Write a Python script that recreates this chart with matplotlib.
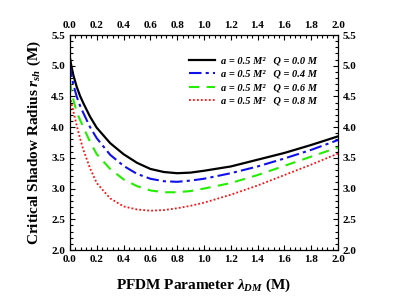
import matplotlib
matplotlib.use('Agg')
import matplotlib.pyplot as plt
from matplotlib.ticker import MultipleLocator, FormatStrFormatter

plt.rcParams['font.family'] = ['Liberation Serif', 'DejaVu Serif']
plt.rcParams['mathtext.fontset'] = 'custom'
plt.rcParams['mathtext.rm'] = 'Liberation Serif:bold'
plt.rcParams['mathtext.it'] = 'Liberation Serif:bold:italic'
plt.rcParams['mathtext.bf'] = 'Liberation Serif:bold'

# PFDM parameter values
lam = [0.0, 0.01, 0.025, 0.05, 0.075, 0.1, 0.15, 0.2, 0.3, 0.4, 0.5, 0.6, 0.7, 0.8, 0.9,
       1.0, 1.2, 1.4, 1.6, 1.8, 2.0]

# shadow radius for each Q (a = 0.5)
r_q00 = [5.13, 5.00, 4.85, 4.66, 4.51, 4.39, 4.17, 3.99, 3.74, 3.56, 3.42, 3.32, 3.27,
         3.25, 3.26, 3.29, 3.36, 3.47, 3.58, 3.71, 3.85]
r_q04 = [5.02, 4.86, 4.70, 4.50, 4.35, 4.23, 4.00, 3.82, 3.55, 3.37, 3.24, 3.16, 3.12,
         3.11, 3.13, 3.16, 3.25, 3.36, 3.49, 3.63, 3.79]
r_q06 = [4.75, 4.60, 4.45, 4.25, 4.12, 4.00, 3.76, 3.56, 3.32, 3.15, 3.04, 2.97, 2.94,
         2.94, 2.96, 3.00, 3.09, 3.22, 3.37, 3.52, 3.67]
r_q08 = [4.50, 4.40, 4.26, 4.03, 3.82, 3.63, 3.33, 3.09, 2.84, 2.71, 2.66, 2.64, 2.65,
         2.68, 2.72, 2.77, 2.90, 3.05, 3.22, 3.39, 3.57]

labels = ['a = 0.5 M\u00b2   Q = 0.0 M', 'a = 0.5 M\u00b2   Q = 0.4 M',
          'a = 0.5 M\u00b2   Q = 0.6 M', 'a = 0.5 M\u00b2   Q = 0.8 M']

fig = plt.figure(figsize=(3.93, 3.01), dpi=100)
ax = fig.add_axes([0.178, 0.1694, 0.682, 0.7143])

ax.plot(lam, r_q00, color='black', lw=1.6, ls='-', label=labels[0])
ax.plot(lam, r_q04, color='#1010ee', lw=1.5, ls=(0, (6, 2, 1.5, 2)), label=labels[1])
ax.plot(lam, r_q06, color='#22ee00', lw=1.5, ls=(0, (5, 3.5)), label=labels[2])
ax.plot(lam, r_q08, color='#ff1010', lw=1.3, ls=(0, (1, 1.2)), label=labels[3])

ax.set_xlim(0, 2.0)
ax.set_ylim(2.0, 5.5)
ax.xaxis.set_major_locator(MultipleLocator(0.2))
ax.xaxis.set_minor_locator(MultipleLocator(0.04))
ax.yaxis.set_major_locator(MultipleLocator(0.5))
ax.yaxis.set_minor_locator(MultipleLocator(0.1))
ax.xaxis.set_major_formatter(FormatStrFormatter('%.1f'))
ax.yaxis.set_major_formatter(FormatStrFormatter('%.1f'))
ax.tick_params(which='both', direction='in', top=True, right=True,
               labeltop=True, labelright=True, labelsize=8, width=0.8)
ax.tick_params(which='major', length=3.5)
ax.tick_params(which='minor', length=2)
for t in ax.xaxis.get_major_ticks() + ax.yaxis.get_major_ticks():
    t.label1.set_fontweight('bold')
    t.label2.set_fontweight('bold')
for s in ax.spines.values():
    s.set_linewidth(0.9)

ax.set_xlabel(r'PFDM Parameter $\lambda_{DM}$ (M)', fontsize=11, fontweight='bold', labelpad=9)
ax.set_ylabel(r'Critical Shadow Radius $r_{sh}$ (M)', fontsize=11, fontweight='bold', labelpad=6)

leg = ax.legend(loc='upper left', bbox_to_anchor=(0.43, 0.922), frameon=False,
                handlelength=2.5, handletextpad=0.5, labelspacing=0.4, borderaxespad=0,
                prop={'family': 'Liberation Serif', 'style': 'italic', 'weight': 'bold', 'size': 7.5})

fig.savefig('out.png', dpi=100)
